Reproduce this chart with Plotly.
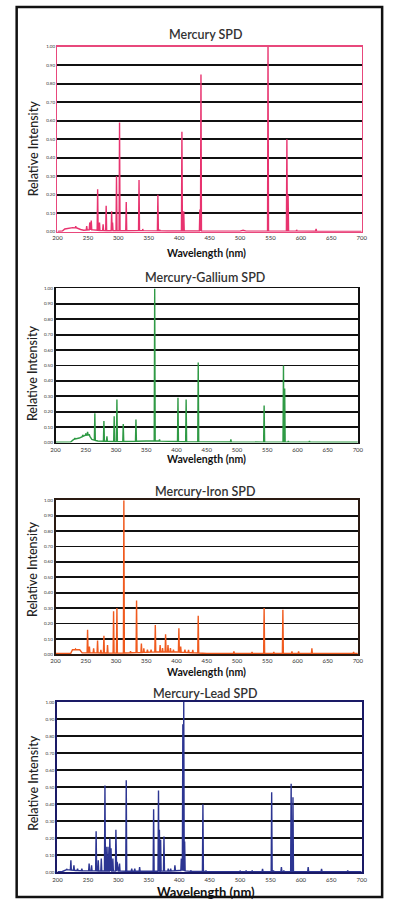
import plotly.graph_objects as go
import numpy as np

# ---------------- DATA ----------------
X_TICKS = [200, 250, 300, 350, 400, 450, 500, 550, 600, 650, 700]
Y_TICKS = [0.0, 0.1, 0.2, 0.3, 0.4, 0.5, 0.6, 0.7, 0.8, 0.9, 1.0]
Y_TICK_TEXT = ["0.00", "0.10", "0.20", "0.30", "0.40", "0.50", "0.60", "0.70", "0.80", "0.90", "1.00"]

TITLES = ["Mercury SPD", "Mercury-Gallium SPD", "Mercury-Iron SPD", "Mercury-Lead SPD"]

# Mercury
hg_cont_wl = [200, 208, 212, 218, 225, 232, 238, 243, 250, 258, 270, 300, 340, 380, 420, 500, 505, 510, 600, 700]
hg_cont_i = [0.002, 0.004, 0.015, 0.02, 0.022, 0.02, 0.012, 0.008, 0.01, 0.01, 0.006, 0.005, 0.006, 0.004, 0.004, 0.003, 0.008, 0.003, 0.003, 0.002]
hg_peak_wl = [230, 248, 253, 255.5, 266, 269, 275, 280, 289, 290.5, 297, 302, 313, 334, 340, 365, 368, 404.5, 407.5, 434, 435.8, 546, 577, 579, 593, 625]
hg_peak_i = [0.03, 0.03, 0.05, 0.06, 0.23, 0.05, 0.04, 0.14, 0.11, 0.05, 0.30, 0.59, 0.16, 0.28, 0.015, 0.20, 0.01, 0.54, 0.11, 0.12, 0.85, 1.00, 0.50, 0.20, 0.01, 0.015]

# Mercury-Gallium
ga_cont_wl = [200, 225, 230, 240, 248, 255, 260, 270, 300, 350, 360, 380, 420, 500, 600, 700]
ga_cont_i = [0.002, 0.003, 0.02, 0.03, 0.045, 0.05, 0.02, 0.01, 0.006, 0.01, 0.012, 0.008, 0.005, 0.003, 0.003, 0.002]
ga_peak_wl = [232, 240, 245, 250, 253, 256, 265, 280, 285, 297, 301.5, 312, 333, 364, 372, 402.5, 416, 436, 490, 545, 577, 579, 585, 620, 660]
ga_peak_i = [0.03, 0.03, 0.05, 0.06, 0.07, 0.05, 0.19, 0.14, 0.04, 0.17, 0.28, 0.12, 0.15, 1.00, 0.02, 0.29, 0.28, 0.52, 0.02, 0.24, 0.50, 0.35, 0.01, 0.01, 0.005]

# Mercury-Iron
fe_cont_wl = [200, 225, 228, 240, 244, 260, 300, 340, 360, 400, 430, 450, 500, 600, 700]
fe_cont_i = [0.006, 0.006, 0.03, 0.03, 0.01, 0.01, 0.008, 0.012, 0.015, 0.015, 0.01, 0.006, 0.006, 0.006, 0.006]
fe_peak_wl = [233, 253, 256, 263, 269.5, 275, 280, 286, 296, 301.5, 313, 324, 334, 342, 346, 352, 358, 365, 373, 377, 382, 386, 390, 395, 404, 407, 414, 420, 427, 436, 475, 495, 525, 545, 561, 576, 591, 602, 624, 667, 693]
fe_peak_i = [0.035, 0.16, 0.05, 0.04, 0.09, 0.03, 0.12, 0.06, 0.28, 0.30, 1.00, 0.02, 0.35, 0.07, 0.04, 0.03, 0.03, 0.19, 0.06, 0.04, 0.13, 0.06, 0.04, 0.03, 0.17, 0.05, 0.03, 0.03, 0.03, 0.25, 0.01, 0.02, 0.015, 0.30, 0.015, 0.29, 0.02, 0.02, 0.04, 0.01, 0.015]

# Mercury-Lead
pb_cont_wl = [200, 208, 215, 230, 245, 300, 340, 380, 400, 420, 500, 600, 700]
pb_cont_i = [0.002, 0.004, 0.015, 0.01, 0.008, 0.006, 0.005, 0.006, 0.01, 0.004, 0.003, 0.003, 0.002]
pb_peak_wl = [215, 222, 227, 233, 240, 252, 256, 263.5, 267, 272, 278, 280, 283, 286, 288, 291, 296, 298, 302, 313, 322, 327, 335, 358, 366, 367.5, 369.5, 375, 382, 386, 393, 403.5, 406, 407.5, 409, 419, 439, 444, 500, 510, 520, 537, 552, 555, 568, 572, 584, 587, 612, 634, 677]
pb_peak_i = [0.02, 0.07, 0.04, 0.02, 0.02, 0.05, 0.04, 0.24, 0.07, 0.08, 0.51, 0.15, 0.15, 0.20, 0.14, 0.08, 0.25, 0.06, 0.05, 0.54, 0.02, 0.02, 0.03, 0.37, 0.48, 0.25, 0.19, 0.21, 0.02, 0.02, 0.04, 0.08, 0.87, 1.00, 0.18, 0.01, 0.40, 0.01, 0.01, 0.01, 0.01, 0.02, 0.47, 0.01, 0.03, 0.01, 0.52, 0.44, 0.03, 0.02, 0.01]

SERIES = [
    (hg_cont_wl, hg_cont_i, hg_peak_wl, hg_peak_i),
    (ga_cont_wl, ga_cont_i, ga_peak_wl, ga_peak_i),
    (fe_cont_wl, fe_cont_i, fe_peak_wl, fe_peak_i),
    (pb_cont_wl, pb_cont_i, pb_peak_wl, pb_peak_i),
]

# ---------------- STYLE / LAYOUT ----------------
W, H = 393, 903
LINE_COLORS = ["#e8336f", "#2f9a45", "#f05a1e", "#2c3592"]
FRAME_COLORS = ["#e8487c", "#111111", "#2a1a12", "#1a1a66"]
FRAME_WIDTHS = [1.5, 1.8, 1.8, 2.2]
# plot areas in pixels: (left, right, top, bottom)
BOXES = [(54, 367, 45, 231), (52, 363, 288, 443), (52, 363, 501, 656), (54, 367, 704, 875)]
TITLE_Y = [33, 277, 492, 695]
XTITLE_Y = [252, 460, 674, 895]
XTITLE_SIZE = [10.5, 10.5, 10.5, 13]
YTITLE_Y = [147, 373, 570, 785]


def build_line(cw, ci, pw, pi, half=0.8):
    pts = list(zip(cw, ci))
    for w, v in zip(pw, pi):
        b1 = float(np.interp(w - half, cw, ci))
        b2 = float(np.interp(w + half, cw, ci))
        pts += [(w - half, b1), (w, v), (w + half, b2)]
    pts.sort(key=lambda p: p[0])
    return [p[0] for p in pts], [p[1] for p in pts]


fig = go.Figure()
annotations = []
FONT = "Lato"

for k, (cw, ci, pw, pi) in enumerate(SERIES):
    n = "" if k == 0 else str(k + 1)
    xs, ys = build_line(cw, ci, pw, pi)
    fig.add_trace(go.Scatter(x=xs, y=ys, mode="lines",
                             line=dict(color=LINE_COLORS[k], width=1.4),
                             xaxis="x" + n, yaxis="y" + n, showlegend=False,
                             hoverinfo="skip"))
    l, r, t, b = BOXES[k]
    fig.update_layout(**{
        "xaxis" + n: dict(domain=[l / W, r / W], range=[200, 700], anchor="y" + n,
                          tickvals=X_TICKS, ticktext=[str(v) for v in X_TICKS],
                          tickfont=dict(size=6, color="#333", family=FONT),
                          showgrid=False, zeroline=False, showline=True, mirror=True,
                          linecolor=FRAME_COLORS[k], linewidth=FRAME_WIDTHS[k],
                          ticks="", ticklen=0, ticklabelstandoff=0),
        "yaxis" + n: dict(domain=[1 - b / H, 1 - t / H], range=[0, 1.0], anchor="x" + n,
                          tickvals=Y_TICKS, ticktext=Y_TICK_TEXT,
                          tickfont=dict(size=4.5, color="#333", family=FONT),
                          showgrid=True, gridcolor="#111111", gridwidth=1.8,
                          zeroline=False, showline=True, mirror=True,
                          linecolor=FRAME_COLORS[k], linewidth=FRAME_WIDTHS[k],
                          ticks="", ticklen=0),
    })
    annotations.append(dict(text=TITLES[k], x=206 / W, y=1 - TITLE_Y[k] / H,
                            xref="paper", yref="paper", showarrow=False,
                            xanchor="center", yanchor="middle",
                            font=dict(size=12.5, color="#333", family=FONT, weight=600)))
    annotations.append(dict(text="Wavelength (nm)", x=207 / W, y=1 - XTITLE_Y[k] / H,
                            xref="paper", yref="paper", showarrow=False,
                            xanchor="center", yanchor="middle",
                            font=dict(size=XTITLE_SIZE[k], color="#111", family=FONT, weight=700)))
    annotations.append(dict(text="Relative Intensity", x=29 / W, y=1 - YTITLE_Y[k] / H,
                            xref="paper", yref="paper", showarrow=False, textangle=-90,
                            xanchor="center", yanchor="middle",
                            font=dict(size=12.5, color="#222", family=FONT, weight=500)))

fig.update_layout(
    width=W, height=H, autosize=False,
    margin=dict(l=0, r=0, t=0, b=0),
    paper_bgcolor="white", plot_bgcolor="white",
    annotations=annotations,
    shapes=[dict(type="rect", xref="paper", yref="paper",
                 x0=12 / W, x1=388 / W, y0=1 - 900 / H, y1=1 - 5 / H,
                 line=dict(color="#111", width=2.5), fillcolor="rgba(0,0,0,0)")],
)

fig.write_html("out.html",
               config={"displayModeBar": False, "responsive": False, "staticPlot": True},
               post_script="document.body.style.margin='0';document.body.style.overflow='hidden';")
